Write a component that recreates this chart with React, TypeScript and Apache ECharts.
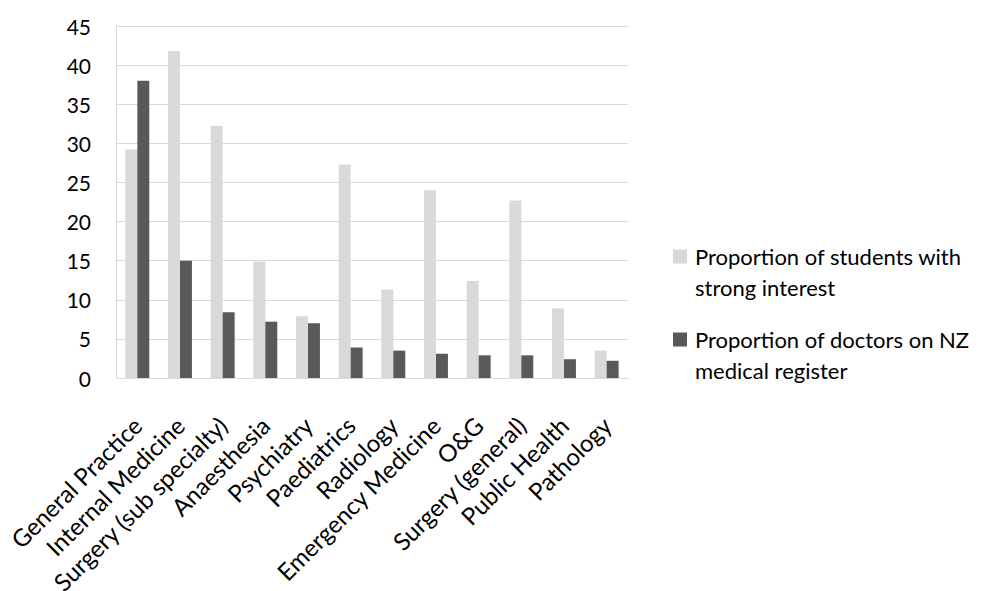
import React, { useEffect, useRef } from "react";
import * as echarts from "echarts";

// Specialties along the category axis
const specialties = [
  "General Practice",
  "Internal Medicine",
  "Surgery (sub specialty)",
  "Anaesthesia",
  "Psychiatry",
  "Paediatrics",
  "Radiology",
  "Emergency Medicine",
  "O&G",
  "Surgery (general)",
  "Public Health",
  "Pathology",
];

// Percent of students reporting strong interest in each specialty
const studentInterest = [29.2, 41.8, 32.2, 14.9, 7.9, 27.3, 11.3, 24.0, 12.4, 22.7, 8.9, 3.5];

// Percent of doctors on the NZ medical register in each specialty
const registeredDoctors = [38.0, 15.0, 8.4, 7.2, 7.0, 3.9, 3.5, 3.1, 2.9, 2.9, 2.4, 2.2];

const seriesNames = [
  "Proportion of students with strong interest",
  "Proportion of doctors on NZ medical register",
];
const legendLines: Record<string, string> = {
  [seriesNames[0]]: "Proportion of students with\nstrong interest",
  [seriesNames[1]]: "Proportion of doctors on NZ\nmedical register",
};

const yTicks = { min: 0, max: 45, interval: 5 };

const FONT = "Lato, 'Open Sans', sans-serif";
const LIGHT = "#d9d9d9";
const DARK = "#595959";
const TEXT = "#000000";
const LEGEND_LINE = 31;

// Legend swatch: a 14px square at the top of a 17x45 box, so it sits level
// with the first line of the two-line legend text.
const SWATCH = "path://M0,0L14,0L14,14L0,14Z M17,45L17,45";

export default function App() {
  const ref = useRef<HTMLDivElement>(null);

  useEffect(() => {
    if (!ref.current) return;
    const chart = echarts.init(ref.current, undefined, { renderer: "svg" });
    chart.setOption({
      animation: false,
      backgroundColor: "#ffffff",
      textStyle: { fontFamily: FONT },
      grid: {
        left: 116,
        right: 361,
        top: 26,
        bottom: 213,
        containLabel: false,
        outerBoundsMode: "none",
      },
      legend: {
        orient: "vertical",
        left: 673,
        top: 241,
        padding: 0,
        itemWidth: 17,
        itemHeight: 45,
        itemGap: 21,
        icon: SWATCH,
        selectedMode: false,
        data: seriesNames,
        formatter: (name: string) => legendLines[name] ?? name,
        textStyle: {
          fontFamily: FONT,
          fontSize: 22,
          color: TEXT,
          lineHeight: LEGEND_LINE,
        },
      },
      xAxis: {
        type: "category",
        data: specialties,
        axisTick: { show: false },
        axisLine: { lineStyle: { color: LIGHT, width: 1 } },
        axisLabel: {
          interval: 0,
          rotate: 45,
          margin: 43,
          fontFamily: FONT,
          fontSize: 24,
          color: TEXT,
        },
      },
      yAxis: {
        type: "value",
        min: yTicks.min,
        max: yTicks.max,
        interval: yTicks.interval,
        axisLine: { show: true, lineStyle: { color: LIGHT, width: 1 } },
        axisTick: { show: false },
        splitLine: { lineStyle: { color: LIGHT, width: 1 } },
        axisLabel: {
          margin: 25,
          fontFamily: FONT,
          fontSize: 21,
          color: TEXT,
        },
      },
      series: [
        {
          name: seriesNames[0],
          type: "bar",
          data: studentInterest,
          itemStyle: { color: LIGHT },
          barGap: "0%",
          barCategoryGap: "44%",
        },
        {
          name: seriesNames[1],
          type: "bar",
          data: registeredDoctors,
          itemStyle: { color: DARK },
          barGap: "0%",
          barCategoryGap: "44%",
        },
      ],
    });
    return () => chart.dispose();
  }, []);

  return (
    <div
      ref={ref}
      style={{ position: "fixed", left: 0, top: 0, width: 989, height: 591 }}
    />
  );
}
